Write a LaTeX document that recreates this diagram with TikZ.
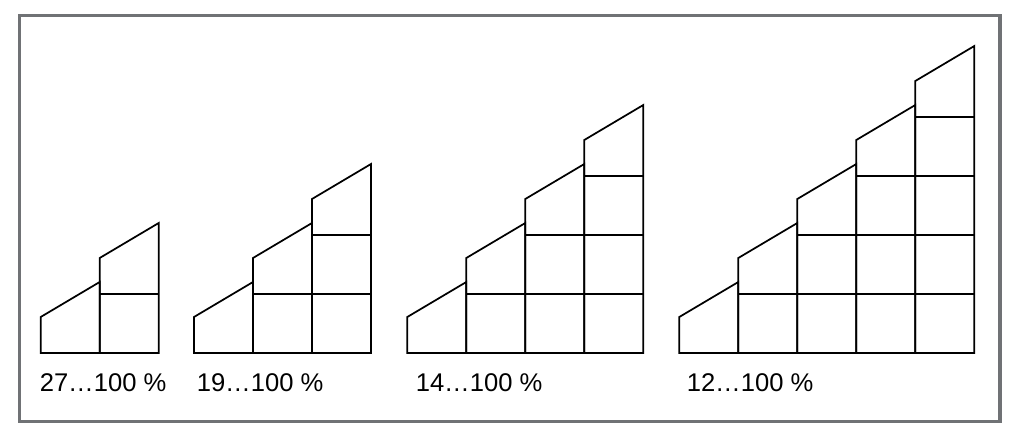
\documentclass[tikz,border=0pt]{standalone}
\usepackage{fontspec}
\setmainfont{Liberation Sans}
\definecolor{frame}{HTML}{707275}
\newcommand\stairs[2]{%
  \begin{scope}[shift={(#1,0)}]
    \foreach \k in {1,...,#2}{
      \pgfmathsetmacro\xa{(\k-1)*59}
      \pgfmathsetmacro\xb{\k*59}
      \pgfmathsetmacro\ya{353-36-59*(\k-1)}
      \pgfmathsetmacro\yb{353-71-59*(\k-1)}
      \draw[ln] (\xa,353) -- (\xa,\ya) -- (\xb,\yb) -- (\xb,353) -- cycle;
    }
    \pgfmathtruncatemacro\last{#2-1}
    \ifnum\last>0
      \foreach \j in {1,...,\last}{
        \draw[ln] ({\j*59},{353-59*\j}) -- ({#2*59},{353-59*\j});
      }
    \fi
  \end{scope}}
\begin{document}
\begin{tikzpicture}[x=0.75pt,y=-0.75pt,
  ln/.style={line width=1.3pt,line join=miter},
  lbl/.style={anchor=base west,inner sep=0pt,font=\fontsize{19.2}{21}\selectfont}]
\useasboundingbox (0,0) rectangle (1024,438);
\draw[frame,line width=2.3pt] (19.5,15.5) rectangle (1000,421.5);
\stairs{40.7}{2}
\stairs{194}{3}
\stairs{407.3}{4}
\stairs{679.3}{5}
\node[lbl] (l1) at (39.5,391.5) {27…100 \%};
\node[lbl] (l2) at (196.5,391.5) {19…100 \%};
\node[lbl] (l3) at (415.5,391.5) {14…100 \%};
\node[lbl] (l4) at (686.5,391.5) {12…100 \%};
\end{tikzpicture}
\end{document}
